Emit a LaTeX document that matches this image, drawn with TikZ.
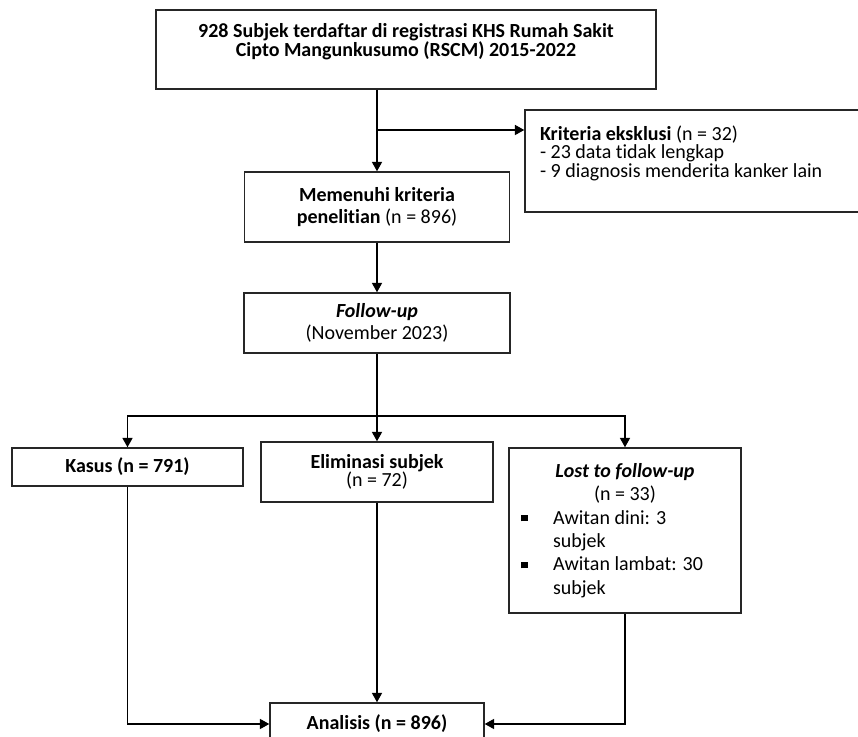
\documentclass[tikz,border=0pt]{standalone}
\usepackage{fontspec}
\setmainfont{Carlito}[Ligatures=NoCommon]
\usetikzlibrary{arrows.meta,positioning}
\tikzset{
    flowbox/.style={rectangle,draw=black!85,line width=1.1pt,align=center,inner sep=2pt,font=\fontsize{15}{14}\selectfont},
    flowline/.style={-{Triangle[length=7pt,width=7.5pt]},line width=1.1pt},
    flowplain/.style={line width=1.1pt}
}
\newcommand\lostitem{\makebox[24pt][l]{\raisebox{2pt}{\rule{5pt}{5pt}}}}

\begin{document}
\begin{tikzpicture}[x=0.75pt,y=-0.75pt]
        \useasboundingbox (0,0) rectangle (858,737);
        \node[flowbox,minimum width=375pt,minimum height=59.25pt] (start) at (406,49.5)
            {\textbf{928 Subjek terdaftar di registrasi KHS Rumah Sakit}\\\textbf{Cipto Mangunkusumo (RSCM) 2015-2022}\\\mbox{}};
        \node[flowbox,align=flush left,text width=228pt,inner xsep=11.25pt,minimum height=76.5pt] (excl) at (692,161)
            {\textbf{Kriteria eksklusi} (n = 32)\\- 23 data tidak lengkap\\- 9 diagnosis menderita kanker lain\\\mbox{}};
        \node[flowbox,minimum width=198.75pt,minimum height=52.5pt] (meet) at (377,207)
            {\textbf{Memenuhi kriteria}\\[3pt]\textbf{penelitian} (n = 896)};
        \node[flowbox,minimum width=199.5pt,minimum height=45pt] (follow) at (377,323)
            {\textbf{\textit{Follow-up}}\\[3pt](November 2023)};
        \node[flowbox,minimum width=173.25pt,minimum height=28.5pt] (kasus) at (127.5,467)
            {\textbf{Kasus (n = 791)}};
        \node[flowbox,minimum width=174pt,minimum height=45pt] (elim) at (377,472)
            {\textbf{Eliminasi subjek}\\(n = 72)};
        \node[flowbox,align=flush left,text width=156pt,inner xsep=9pt,minimum height=123.75pt,
              font=\fontsize{15}{17.6}\selectfont] (lost) at (625,530.5)
            {{\centering\textbf{\textit{Lost to follow-up}}\\(n = 33)\par}
             \lostitem Awitan dini: 3\\\hspace*{24pt}subjek\\
             \lostitem Awitan lambat: 30\\\hspace*{24pt}subjek};
        \node[flowbox,minimum width=160.5pt,minimum height=31.5pt] (anal) at (377,724)
            {\textbf{Analisis (n = 896)}};
        % percabangan
        \coordinate (split) at (377,130);
        \coordinate (fork) at (377,416);
        \draw[flowline] (split |- start.south) -- (meet);
        \draw[flowline] (split) -- (split -| excl.west);
        \draw[flowline] (meet) -- (follow);
        \draw[flowline] (follow) -- (elim);
        \draw[flowline] (fork) -| (kasus);
        \draw[flowline] (fork) -| (lost);
        \draw[flowline] (elim) -- (anal);
        \draw[flowline] (kasus) |- (anal);
        \draw[flowline] (lost) |- (anal);
    \end{tikzpicture}
\end{document}
